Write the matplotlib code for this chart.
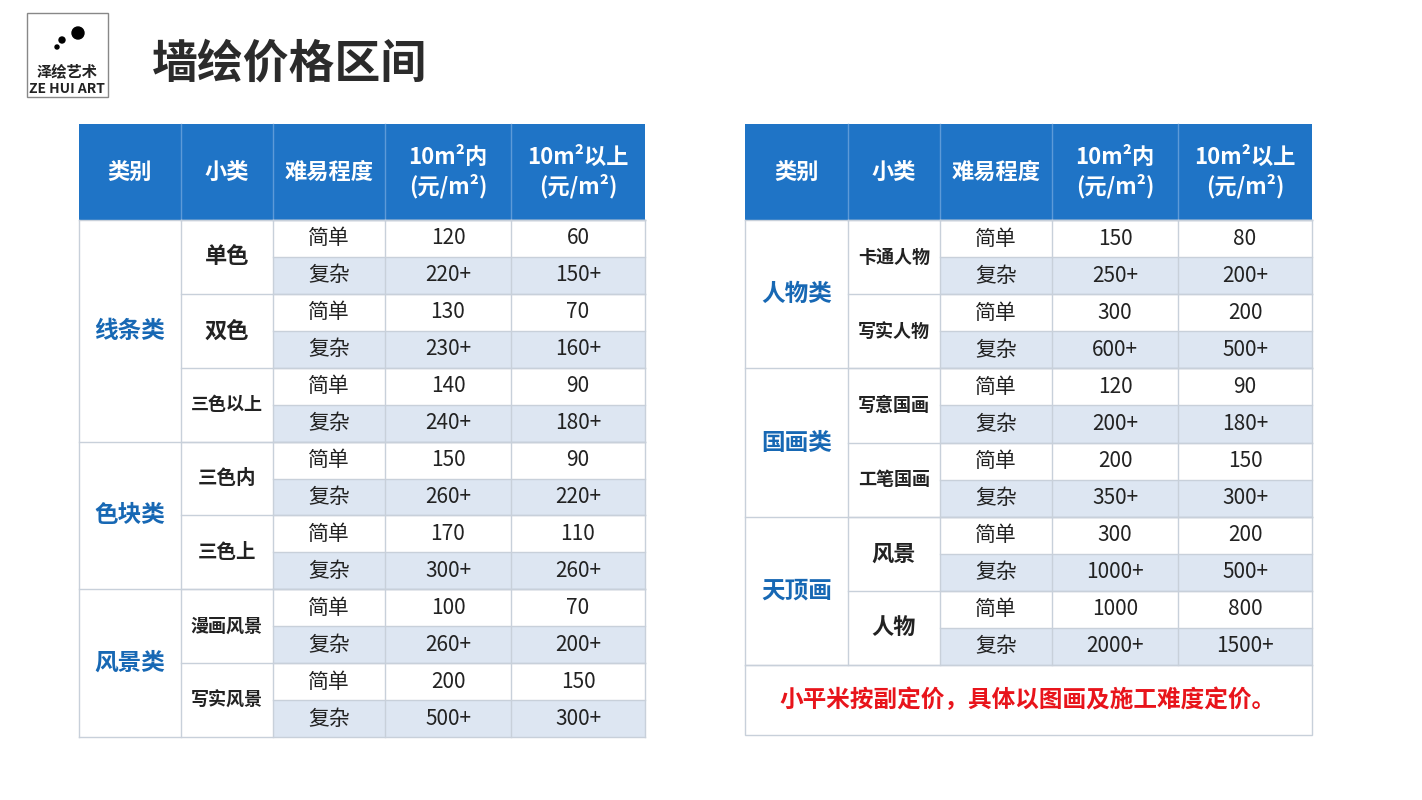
import matplotlib
matplotlib.use("Agg")
import matplotlib.pyplot as plt
from matplotlib.patches import Rectangle, Circle

plt.rcParams['font.family'] = ['Noto Sans CJK SC', 'DejaVu Sans']

title = "墙绘价格区间"
headers = ["类别", "小类", "难易程度", "10m²内\n(元/m²)", "10m²以上\n(元/m²)"]
levels = ["简单", "复杂"]

left_cats = ["线条类", "色块类", "风景类"]
left_subs = [["单色", "双色", "三色以上"], ["三色内", "三色上"], ["漫画风景", "写实风景"]]
left_in = ["120", "220+", "130", "230+", "140", "240+", "150", "260+", "170", "300+", "100", "260+", "200", "500+"]
left_out = ["60", "150+", "70", "160+", "90", "180+", "90", "220+", "110", "260+", "70", "200+", "150", "300+"]

right_cats = ["人物类", "国画类", "天顶画"]
right_subs = [["卡通人物", "写实人物"], ["写意国画", "工笔国画"], ["风景", "人物"]]
right_in = ["150", "250+", "300", "600+", "120", "200+", "200", "350+", "300", "1000+", "1000", "2000+"]
right_out = ["80", "200+", "200", "500+", "90", "180+", "150", "300+", "200", "500+", "800", "1500+"]
note = "小平米按副定价，具体以图画及施工难度定价。"

BLUE = "#1f74c6"
CAT = "#1768b4"
ALT = "#dde6f2"
GRID = "#c8d0da"

fig = plt.figure(figsize=(14.22, 8), dpi=100)
ax = fig.add_axes([0, 0, 1, 1])
ax.set_xlim(0, 1422); ax.set_ylim(800, 0); ax.axis("off")

# logo
ax.add_patch(Rectangle((27, 13), 81, 84, fc="white", ec="#888888", lw=1))
ax.add_patch(Circle((78, 33), 6, color="black"))
ax.add_patch(Circle((62, 40), 3, color="black"))
ax.add_patch(Circle((57, 47), 2, color="black"))
ax.text(67, 72, "泽绘艺术", ha="center", va="center", fontsize=11, color="#222", fontweight="bold")
ax.text(67, 89, "ZE HUI ART", ha="center", va="center", fontsize=10, color="#222", fontweight="bold")
ax.text(152, 65, title, ha="left", va="center", fontsize=33, fontweight="bold", color="#2b2b2b")

TW = "medium"

def table(cols, top, hb, rowh, cats, subs, vin, vout, sub_sizes):
    x0, x1 = cols[0], cols[-1]
    ax.add_patch(Rectangle((x0, top), x1 - x0, hb - top, fc=BLUE, ec="none"))
    for i, h in enumerate(headers):
        ax.text((cols[i] + cols[i + 1]) / 2, (top + hb) / 2, h, ha="center", va="center",
                color="white", fontsize=16, fontweight="bold", linespacing=1.25)
    for c in cols[1:-1]:
        ax.plot([c, c], [top, hb], color="#5d9ad8", lw=1)
    n = len(vin)
    for r in range(n):
        y = hb + r * rowh
        if r % 2 == 1:
            ax.add_patch(Rectangle((cols[2], y), x1 - cols[2], rowh, fc=ALT, ec="none"))
        for k, t in ((2, levels[r % 2]), (3, vin[r]), (4, vout[r])):
            ax.text((cols[k] + cols[k + 1]) / 2, y + rowh / 2, t, ha="center", va="center",
                    fontsize=15, color="#222", fontweight=TW)
        ax.plot([cols[2], x1], [y, y], color=GRID, lw=1)
    r = 0
    for ci, cat in enumerate(cats):
        nr = 2 * len(subs[ci])
        ya = hb + r * rowh
        ax.text((cols[0] + cols[1]) / 2, ya + nr * rowh / 2, cat, ha="center", va="center",
                fontsize=17, fontweight="bold", color=CAT)
        ax.plot([x0, x1], [ya, ya], color=GRID, lw=1)
        for s in subs[ci]:
            ys = hb + r * rowh
            ax.text((cols[1] + cols[2]) / 2, ys + rowh, s, ha="center", va="center",
                    fontsize=sub_sizes(s), color="#222", fontweight="bold")
            ax.plot([cols[1], x1], [ys, ys], color=GRID, lw=1)
            r += 2
    yb = hb + n * rowh
    ax.plot([x0, x1], [yb, yb], color=GRID, lw=1)
    for c in cols:
        ax.plot([c, c], [hb, yb], color=GRID, lw=1)
    return yb

szf = lambda s: 16 if len(s) <= 2 else (14 if len(s) == 3 else 13)
table([79, 181, 273, 385, 511, 645], 124, 220, (737 - 220) / 14, left_cats, left_subs, left_in, left_out, szf)
yb = table([745, 848, 940, 1052, 1178, 1312], 124, 220, (665 - 220) / 12, right_cats, right_subs, right_in, right_out, szf)
ax.add_patch(Rectangle((745, yb), 567, 735 - yb, fc="none", ec=GRID, lw=1))
ax.text(1028, 700, note, ha="center", va="center", fontsize=17, fontweight="bold", color="#e8141b")

fig.savefig("out.png", dpi=100)
